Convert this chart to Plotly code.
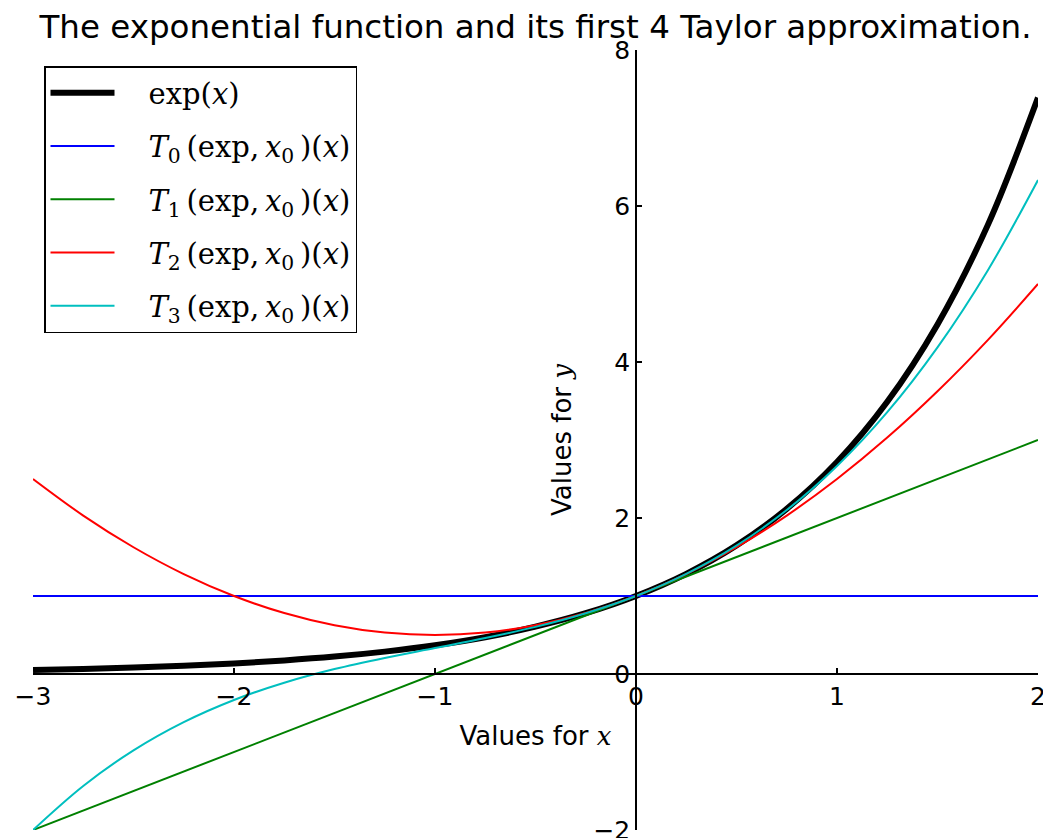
import plotly.graph_objects as go

# Sample abscissae and curve values
x_vals = [-3.0, -2.75, -2.5, -2.25, -2.0, -1.75, -1.5, -1.25, -1.0, -0.75, -0.5,
          -0.25, 0.0, 0.25, 0.5, 0.75, 1.0, 1.25, 1.5, 1.75, 2.0]
exp_vals = [0.05, 0.064, 0.082, 0.105, 0.135, 0.174, 0.223, 0.287, 0.368, 0.472, 0.607,
            0.779, 1.0, 1.284, 1.649, 2.117, 2.718, 3.49, 4.482, 5.755, 7.389]
t0_x = [-3.0, 2.0]
t0_vals = [1.0, 1.0]
t1_x = [-3.0, 2.0]
t1_vals = [-2.0, 3.0]
t2_vals = [2.5, 2.031, 1.625, 1.281, 1.0, 0.781, 0.625, 0.531, 0.5, 0.531, 0.625,
           0.781, 1.0, 1.281, 1.625, 2.031, 2.5, 3.031, 3.625, 4.281, 5.0]
t3_vals = [-2.0, -1.435, -0.979, -0.617, -0.333, -0.112, 0.063, 0.206, 0.333, 0.461, 0.604,
           0.779, 1.0, 1.284, 1.646, 2.102, 2.667, 3.357, 4.188, 5.174, 6.333]

x_ticks = [-3, -2, -1, 0, 1, 2]
y_ticks = [-2, 0, 2, 4, 6, 8]

SERIF = "DejaVu Serif"
SANS = "DejaVu Sans"
TS = "\u2009"   # thin space, mimics math spacing
LEAD = "\u2003"  # gap between legend line and text

def sp(t):
    return '<span style="font-family:%s">%s</span>' % (SERIF, t)

def tname(k):
    return (LEAD + "<i>T</i><sub>%d</sub>" % k + TS + "(exp," + TS + "<i>x</i><sub>0</sub>" + TS
            + ")(<i>x</i>)")

names = [LEAD + "exp(<i>x</i>)", tname(0), tname(1), tname(2), tname(3)]

fig = go.Figure()
fig.add_trace(go.Scatter(x=x_vals, y=exp_vals, mode="lines", name=names[0], legendgroup="a",
                         line=dict(color="black", width=6, shape="spline")))
fig.add_trace(go.Scatter(x=t0_x, y=t0_vals, mode="lines", name=names[1], legendgroup="b",
                         line=dict(color="#0000ff", width=2)))
fig.add_trace(go.Scatter(x=t1_x, y=t1_vals, mode="lines", name=names[2], legendgroup="c",
                         line=dict(color="#008000", width=2)))
fig.add_trace(go.Scatter(x=x_vals, y=t2_vals, mode="lines", name=names[3], legendgroup="d",
                         line=dict(color="#ff0000", width=2, shape="spline")))
fig.add_trace(go.Scatter(x=x_vals, y=t3_vals, mode="lines", name=names[4], legendgroup="e",
                         line=dict(color="#00bfbf", width=2, shape="spline")))

# page body adds an 8px offset; margins compensate for it
fig.update_layout(
    width=1051, height=838,
    margin=dict(l=25, r=21, t=42, b=16, autoexpand=False),
    paper_bgcolor="white", plot_bgcolor="white",
    font=dict(family=SANS, size=25, color="black"),
    title=dict(text="The exponential function and its first 4 Taylor approximation.",
               x=0.5, xref="paper", xanchor="center",
               y=1 - 19 / 838, yref="container", yanchor="middle",
               font=dict(family=SANS, size=32.5, color="black")),
    showlegend=True,
    legend=dict(x=(36 - 25) / 1005, y=1 - (58 - 42) / 780, xanchor="left", yanchor="top",
                bgcolor="white", bordercolor="black", borderwidth=1.5,
                font=dict(family=SERIF, size=29, color="black"),
                tracegroupgap=12.5, itemwidth=64),
    xaxis=dict(range=[-3, 2], tickvals=x_ticks, ticks="inside", ticklen=5, tickwidth=1.5,
               tickcolor="black", showline=True, linecolor="black", linewidth=1.5,
               showgrid=False, zeroline=False, anchor="free", position=0.2,
               tickfont=dict(family=SANS, size=25),
               title=dict(text="Values for " + sp("<i>x</i>"), standoff=16,
                          font=dict(family=SANS, size=26))),
    yaxis=dict(range=[-2, 8], tickvals=y_ticks, ticks="inside", ticklen=5, tickwidth=1.5,
               tickcolor="black", showline=True, linecolor="black", linewidth=1.5,
               showgrid=False, zeroline=False, anchor="free", position=0.6,
               tickfont=dict(family=SANS, size=25),
               title=dict(text="Values for " + sp("<i>y</i>"), standoff=13,
                          font=dict(family=SANS, size=26))),
)

fig.write_html("out.html")
